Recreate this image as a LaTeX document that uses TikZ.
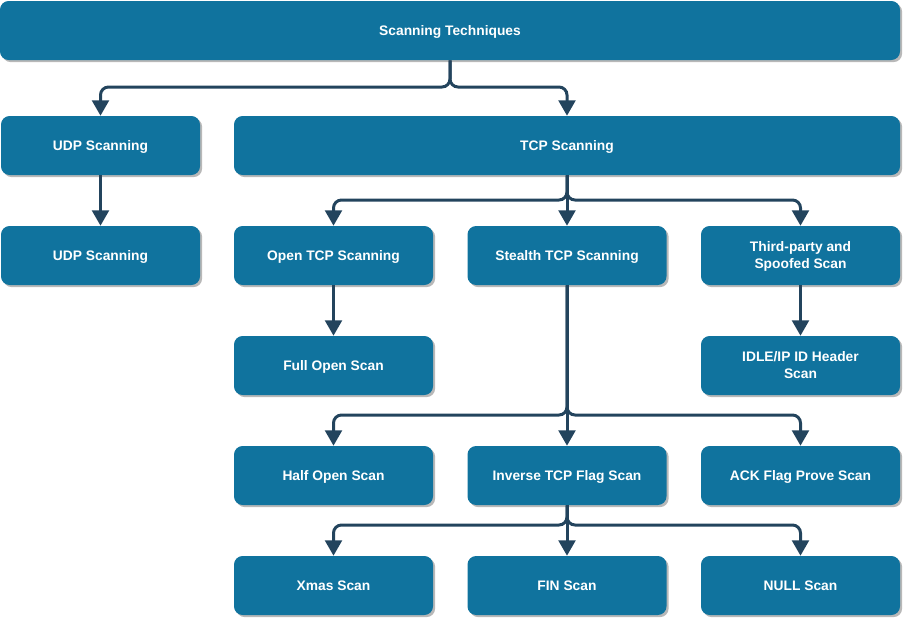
\documentclass[tikz,border=0pt]{standalone}
\usepackage{fontspec}
\setmainfont{Liberation Sans}
\usetikzlibrary{shadows,arrows.meta}
\definecolor{boxblue}{HTML}{10739E}
\definecolor{linedark}{HTML}{23445D}
\begin{document}
\begin{tikzpicture}[x=0.75pt,y=-0.75pt,
  box/.style={rectangle, rounded corners=6.5pt, fill=boxblue, text=white,
    font=\fontsize{10.35}{12.75}\selectfont\bfseries, align=center,
    minimum width=149.25pt, minimum height=44.25pt, inner sep=0pt,
    text height=7.4pt, text depth=0pt,
    drop shadow={shadow xshift=1.6pt, shadow yshift=-1.6pt, fill=black!28, opacity=1}},
  twoline/.style={text height=20.15pt, text depth=0pt},
  conn/.style={draw=linedark, line width=2.25pt, rounded corners=6pt,
    -{Triangle[width=12.5pt,length=11.5pt]}}]
\useasboundingbox (0,0) rectangle (904,619);
% nodes
\node[box, minimum width=675pt] (top) at (450,30.5) {Scanning Techniques};
\node[box] (udpa) at (100.5,145.5) {UDP Scanning};
\node[box, minimum width=499.5pt] (tcp) at (567,145.5) {TCP Scanning};
\node[box] (udpb) at (100.5,255.5) {UDP Scanning};
\node[box] (open) at (333.5,255.5) {Open TCP Scanning};
\node[box] (stealth) at (567,255.5) {Stealth TCP Scanning};
\node[box, twoline] (third) at (800.5,255.5) {Third-party and\\Spoofed Scan};
\node[box] (full) at (333.5,365.5) {Full Open Scan};
\node[box, twoline] (idle) at (800.5,365.5) {IDLE/IP ID Header\\Scan};
\node[box] (half) at (333.5,475.5) {Half Open Scan};
\node[box] (inverse) at (567,475.5) {Inverse TCP Flag Scan};
\node[box] (ack) at (800.5,475.5) {ACK Flag Prove Scan};
\node[box] (xmas) at (333.5,585.5) {Xmas Scan};
\node[box] (fin) at (567,585.5) {FIN Scan};
\node[box] (null) at (800.5,585.5) {NULL Scan};
% junctions
\coordinate (j1) at (450,87);
\coordinate (j2) at (567,200);
\coordinate (j3) at (567,415);
\coordinate (j4) at (567,525);
% connectors
\draw[conn] (top.south) -- (j1) -| (udpa.north);
\draw[conn] (top.south) -- (j1) -| (tcp.north);
\draw[conn] (udpa.south) -- (udpb.north);
\draw[conn] (tcp.south) -- (j2) -| (open.north);
\draw[conn] (tcp.south) -- (stealth.north);
\draw[conn] (tcp.south) -- (j2) -| (third.north);
\draw[conn] (open.south) -- (full.north);
\draw[conn] (third.south) -- (idle.north);
\draw[conn] (stealth.south) -- (j3) -| (half.north);
\draw[conn] (stealth.south) -- (inverse.north);
\draw[conn] (stealth.south) -- (j3) -| (ack.north);
\draw[conn] (inverse.south) -- (j4) -| (xmas.north);
\draw[conn] (inverse.south) -- (fin.north);
\draw[conn] (inverse.south) -- (j4) -| (null.north);
\end{tikzpicture}
\end{document}
